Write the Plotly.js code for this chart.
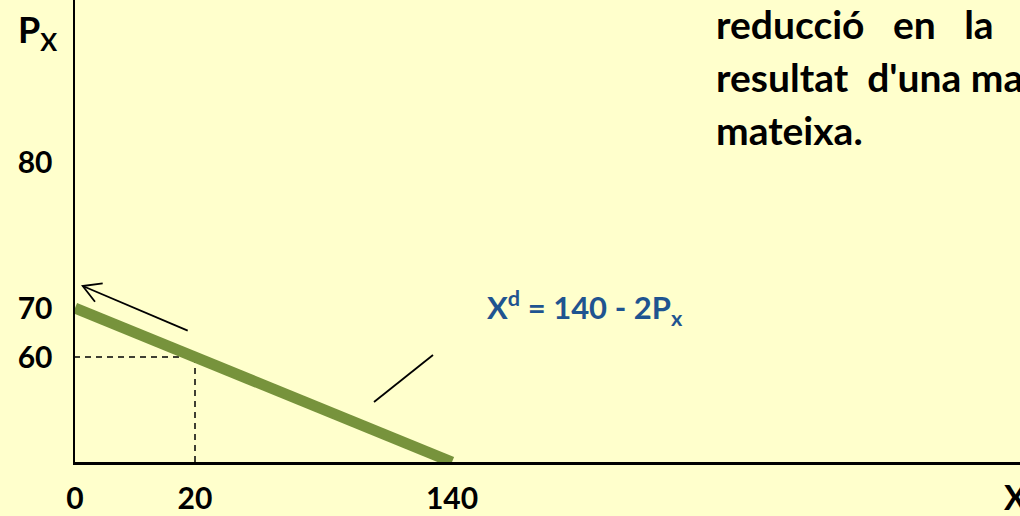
<!DOCTYPE html>
<html>
<head>
<meta charset="utf-8">
<script src="https://cdn.plot.ly/plotly-3.0.1.min.js"></script>
<style>
  html, body { margin: 0; padding: 0; background: #FFFFCC; overflow: hidden; }
  #chart { width: 1020px; height: 516px; }
</style>
</head>
<body>
<div id="chart"></div>
<script>
// Demand curve Xd = 140 - 2Px
const demandX = [0, 20, 140];
const demandP = [70, 60, 0];

// Reference point on the curve (dashed guides)
const pointX = 20;
const pointP = 60;

// Axis ticks
const xTickVals = [0, 20, 140];
const xTickText = ['0', '20', '140'];
const yTickVals = [60, 70, 80];
const yTickText = ['60', '70', '80'];

// The diagram is schematic (not to scale): each axis uses a piecewise-linear
// scale defined by a few anchor values and where they sit along the axis.
const xScaleDomain = [0, 20, 140, 351];
const xScaleRange  = [0, 120, 377, 945];
const yScaleDomain = [0, 60, 70, 80, 200];
const yScaleRange  = [0, 105, 154, 300, 462];

function piecewise(domain, range) {
  return v => {
    let i = 0;
    while (i < domain.length - 2 && v > domain[i + 1]) i++;
    const t = (v - domain[i]) / (domain[i + 1] - domain[i]);
    return range[i] + t * (range[i + 1] - range[i]);
  };
}
const sx = piecewise(xScaleDomain, xScaleRange);
const sy = piecewise(yScaleDomain, yScaleRange);

const BG = '#FFFFCC';
const GREEN = '#77933C';
const BLUE = '#1F5490';
const FONT = 'Lato, "Open Sans", sans-serif';

// Plot area geometry (pixels) used for decorative paper-referenced shapes
const L = 75, T = 0, W = 945, H = 462;
const px = v => (v - L) / W;
const py = v => (T + H - v) / H;

const traces = [
  {
    // dashed guides from the point down to the X axis and across to the P axis
    x: [pointX, pointX, 0].map(sx),
    y: [0, pointP, pointP].map(sy),
    mode: 'lines',
    line: { color: '#000000', width: 1.5, dash: '6px,5px' },
    hoverinfo: 'skip'
  },
  {
    x: demandX.map(sx),
    y: demandP.map(sy),
    mode: 'lines',
    line: { color: GREEN, width: 11 },
    hoverinfo: 'skip'
  }
];

const layout = {
  width: 1020,
  height: 516,
  margin: { l: L, r: 0, t: T, b: 516 - H - T },
  paper_bgcolor: BG,
  plot_bgcolor: BG,
  showlegend: false,
  font: { family: FONT, color: '#000000' },
  xaxis: {
    range: [0, W],
    showgrid: false,
    zeroline: false,
    showline: true,
    linecolor: '#000000',
    linewidth: 2.5,
    tickmode: 'array',
    tickvals: xTickVals.map(sx),
    ticktext: xTickText,
    ticks: '',
    ticklabelstandoff: 8,
    tickfont: { family: FONT, size: 30, weight: 'bold', color: '#000000' },
    fixedrange: true
  },
  yaxis: {
    range: [0, H],
    showgrid: false,
    zeroline: false,
    showline: true,
    linecolor: '#000000',
    linewidth: 2.5,
    tickmode: 'array',
    tickvals: yTickVals.map(sy),
    ticktext: yTickText,
    ticks: '',
    ticklabelstandoff: 14,
    tickfont: { family: FONT, size: 30, weight: 'bold', color: '#000000' },
    fixedrange: true
  },
  shapes: [
    // movement arrow along the curve
    { type: 'path', xref: 'paper', yref: 'paper',
      path: `M ${px(187.7)} ${py(330.7)} L ${px(82.7)} ${py(286)}`,
      line: { color: '#000000', width: 1.8 } },
    { type: 'path', xref: 'paper', yref: 'paper',
      path: `M ${px(102.7)} ${py(283.3)} L ${px(82.7)} ${py(286)} L ${px(95)} ${py(301.7)}`,
      line: { color: '#000000', width: 1.8 } },
    // pointer from the curve towards its equation
    { type: 'path', xref: 'paper', yref: 'paper',
      path: `M ${px(374)} ${py(402)} L ${px(433)} ${py(355)}`,
      line: { color: '#000000', width: 1.8 } }
  ],
  annotations: [
    { xref: 'paper', yref: 'paper', x: px(16), y: py(31), xanchor: 'left', yanchor: 'middle',
      text: '<b>P<sub>X</sub></b>', showarrow: false,
      font: { family: FONT, size: 36, color: '#000000' } },
    { xref: 'paper', yref: 'paper', x: px(1002), y: py(497), xanchor: 'left', yanchor: 'middle',
      text: '<b>X</b>', showarrow: false,
      font: { family: FONT, size: 34, color: '#000000' } },
    { xref: 'paper', yref: 'paper', x: px(485), y: py(308), xanchor: 'left', yanchor: 'middle',
      text: '<b>X<sup>d</sup> = 140 - 2P<sub>x</sub></b>', showarrow: false,
      font: { family: FONT, size: 31, color: BLUE } },
    { xref: 'paper', yref: 'paper', x: px(714), y: py(24), xanchor: 'left', yanchor: 'middle',
      text: '<b>reducció\u00A0\u00A0\u00A0en\u00A0\u00A0\u00A0la</b>', showarrow: false,
      font: { family: FONT, size: 39, color: '#000000' } },
    { xref: 'paper', yref: 'paper', x: px(714), y: py(77), xanchor: 'left', yanchor: 'middle',
      text: "<b>resultat\u00A0 d'una major</b>", showarrow: false,
      font: { family: FONT, size: 39, color: '#000000' } },
    { xref: 'paper', yref: 'paper', x: px(714), y: py(130), xanchor: 'left', yanchor: 'middle',
      text: '<b>mateixa.</b>', showarrow: false,
      font: { family: FONT, size: 39, color: '#000000' } }
  ]
};

Plotly.newPlot('chart', traces, layout, { displayModeBar: false, staticPlot: true });
</script>
</body>
</html>
